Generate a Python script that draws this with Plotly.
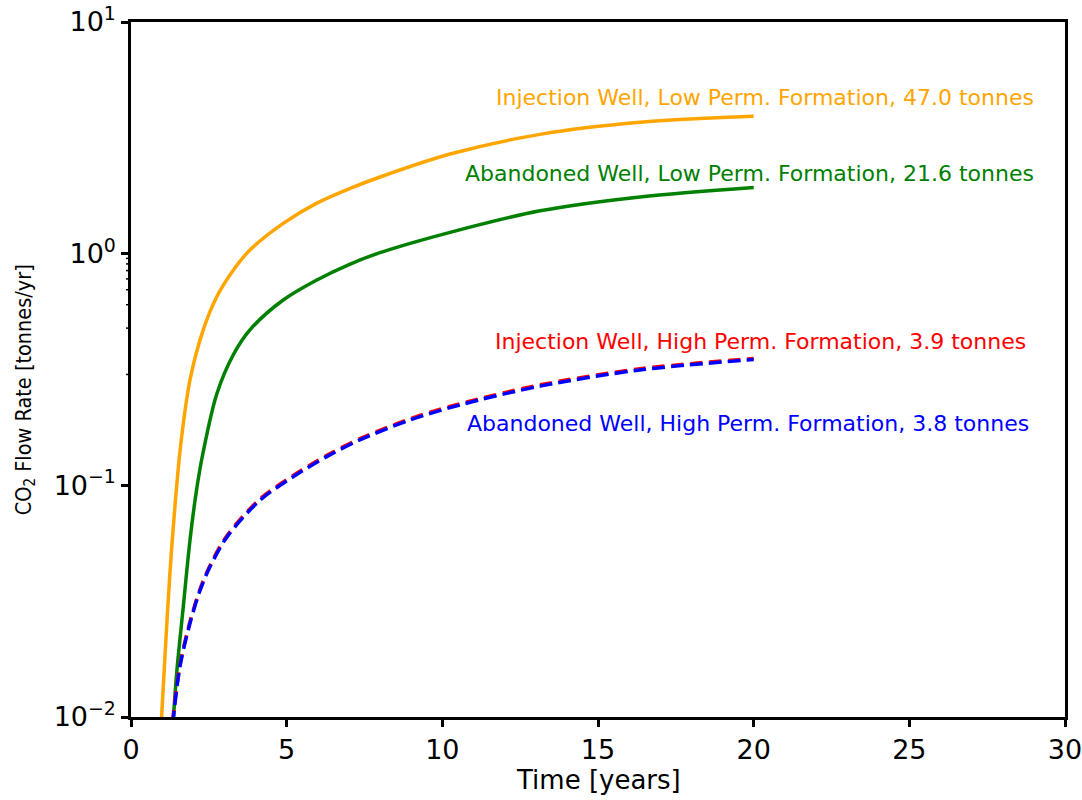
import math
import plotly.graph_objects as go

# ---- data ----
t_inj_low = [0.97, 1.09, 1.25, 1.41, 1.60, 1.895, 2.32, 2.755, 3.29, 3.82, 4.89, 5.97, 7.04, 8.0, 10.25, 13.14, 16.35, 20.0]
q_inj_low = [0.0093, 0.0182, 0.0418, 0.0809, 0.151, 0.285, 0.469, 0.652, 0.851, 1.037, 1.352, 1.652, 1.914, 2.143, 2.692, 3.273, 3.690, 3.917]

t_ab_low = [1.35, 1.467, 1.68, 1.895, 2.105, 2.32, 2.755, 3.29, 3.82, 4.89, 5.97, 7.04, 8.0, 10.25, 13.14, 16.35, 20.0]
q_ab_low = [0.00933, 0.01545, 0.030, 0.058, 0.0955, 0.1396, 0.248, 0.367, 0.469, 0.631, 0.770, 0.902, 1.01, 1.236, 1.531, 1.758, 1.932]

t_inj_high = [1.33, 1.574, 1.895, 2.216, 2.538, 3.074, 4.14, 5.22, 6.29, 7.35, 8.96, 10.56, 13.14, 16.35, 20.0]
q_inj_high = [0.0095, 0.0168, 0.0258, 0.0356, 0.0451, 0.0604, 0.0872, 0.1105, 0.1347, 0.159, 0.1937, 0.225, 0.2715, 0.3185, 0.353]

t_ab_high = [1.34, 1.574, 1.895, 2.216, 2.538, 3.074, 4.14, 5.22, 6.29, 7.35, 8.96, 10.56, 13.14, 16.35, 20.0]
q_ab_high = [0.00933, 0.01652, 0.0254, 0.0351, 0.0445, 0.0596, 0.0861, 0.1091, 0.133, 0.157, 0.1914, 0.2223, 0.268, 0.3148, 0.349]

labels = [
    "Injection Well, Low Perm. Formation, 47.0 tonnes",
    "Abandoned Well, Low Perm. Formation, 21.6 tonnes",
    "Injection Well, High Perm. Formation, 3.9 tonnes",
    "Abandoned Well, High Perm. Formation, 3.8 tonnes",
]
colors = ["orange", "green", "red", "blue"]

ytick_vals = [0.01, 0.1, 1, 10]
ytick_text = ["10<sup>\u22122</sup>", "10<sup>\u22121</sup>", "10<sup>0</sup>", "10<sup>1</sup>"]
xtick_vals = [0, 5, 10, 15, 20, 25, 30]
x_title = "Time [years]"
y_title = "CO<sub>2</sub> Flow Rate [tonnes/yr]"

minor_vals = []
for dec in [0.01, 0.1, 1]:
    for m in range(2, 10):
        minor_vals.append(dec * m)

LW = 3.5
fig = go.Figure()
fig.add_trace(go.Scatter(x=t_inj_low, y=q_inj_low, mode="lines",
                         line=dict(color=colors[0], width=LW, shape="spline", smoothing=0.9)))
fig.add_trace(go.Scatter(x=t_ab_low, y=q_ab_low, mode="lines",
                         line=dict(color=colors[1], width=LW, shape="spline", smoothing=0.9)))
fig.add_trace(go.Scatter(x=t_inj_high, y=q_inj_high, mode="lines",
                         line=dict(color=colors[2], width=LW, dash="12px,7px", shape="spline", smoothing=0.9)))
fig.add_trace(go.Scatter(x=t_ab_high, y=q_ab_high, mode="lines",
                         line=dict(color=colors[3], width=LW, dash="13px,6px", shape="spline", smoothing=0.9)))

# minor log ticks on the left axis (outside), drawn as short shapes
PLOT_W = 1082 - 131 - 17
for v in minor_vals:
    fig.add_shape(type="line", xref="paper", yref="y",
                  x0=-5.0 / PLOT_W, x1=0, y0=math.log10(v), y1=math.log10(v),
                  line=dict(color="black", width=1.5), layer="above")

# label positions (log10 y for log axis)
ann_pos = [(29.07, 0.672), (29.07, 0.348), (28.82, -0.377), (28.91, -0.735)]
for (ax_x, ax_y), txt, c in zip(ann_pos, labels, colors):
    fig.add_annotation(x=ax_x, y=ax_y, xref="x", yref="y", text=txt, showarrow=False,
                       xanchor="right", yanchor="middle",
                       font=dict(family="DejaVu Sans", size=22, color=c))

# axis titles
fig.add_annotation(x=0.5, y=0, xref="paper", yref="paper", text=x_title, showarrow=False,
                   xanchor="center", yanchor="middle", yshift=-63,
                   font=dict(family="DejaVu Sans", size=26, color="black"))
fig.add_annotation(x=0, y=0.47, xref="paper", yref="paper", text=y_title, showarrow=False,
                   textangle=-90, xanchor="center", yanchor="middle", xshift=-106,
                   font=dict(family="DejaVu Sans Condensed, DejaVu Sans", size=21.5, color="black"))

fig.update_layout(
    width=1082, height=800,
    margin=dict(l=131, r=17, t=22, b=83),
    paper_bgcolor="white", plot_bgcolor="white",
    showlegend=False,
    font=dict(family="DejaVu Sans", color="black"),
    xaxis=dict(
        range=[0, 30], tickvals=xtick_vals, ticks="outside", ticklen=7, tickwidth=2.5,
        tickcolor="black", ticklabeloverflow="allow",
        showline=True, linecolor="black", linewidth=2.5, mirror=True, showgrid=False, zeroline=False,
        tickfont=dict(size=27, color="black"), automargin=False,
    ),
    yaxis=dict(
        type="log", range=[-2, 1], tickvals=ytick_vals, ticktext=ytick_text,
        ticks="outside", ticklen=7, tickwidth=2.5, tickcolor="black",
        showline=True, linecolor="black", linewidth=2.5, mirror=True, showgrid=False, zeroline=False,
        tickfont=dict(size=27, color="black"), automargin=False,
    ),
)

fig.write_html("out.html", config={"displayModeBar": False},
               post_script="document.body.style.margin='0';")
